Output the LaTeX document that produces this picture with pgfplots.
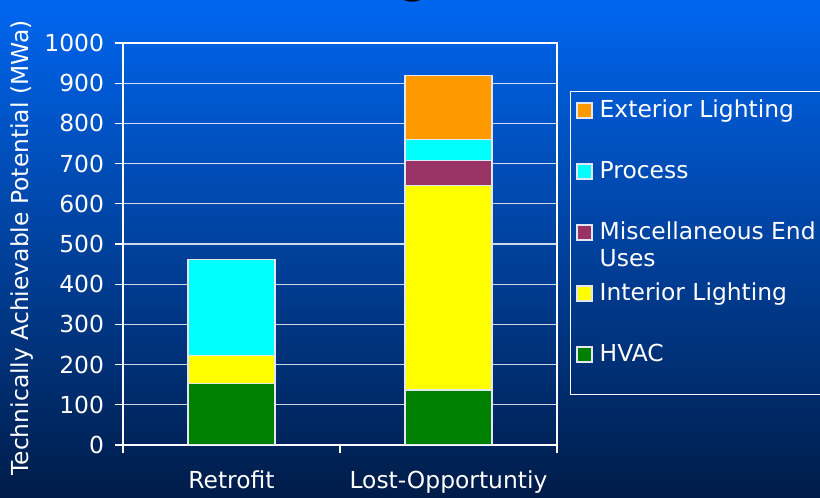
\documentclass[border=0pt]{standalone}
\usepackage{pgfplots}
\pgfplotsset{compat=1.18}
\usetikzlibrary{backgrounds}
\usepackage{fontspec}
\setmainfont{DejaVu Sans}
\definecolor{bgtop}{RGB}{0,102,240}
\definecolor{bgbot}{RGB}{0,28,72}
\definecolor{hvac}{RGB}{0,128,0}
\definecolor{intl}{RGB}{255,255,0}
\definecolor{misc}{RGB}{153,51,102}
\definecolor{proc}{RGB}{0,255,255}
\definecolor{extl}{RGB}{255,153,0}
\definecolor{edge}{RGB}{225,230,240}
\newcommand\fnt{\fontsize{11.7}{13.5}\selectfont}

\begin{document}
\begin{tikzpicture}
\begin{axis}[
  scale only axis, width=217pt, height=201pt,
  ybar stacked, bar width=43.5pt,
  xmin=0, xmax=2, ymin=0, ymax=1000,
  xtick={0.5,1.5}, xticklabels={Retrofit,Lost-Opportuntiy},
  minor xtick={0,1,2},
  ytick={0,100,...,1000},
  tick align=outside, tick pos=left,
  major tick length=4pt, minor tick length=4pt,
  major x tick style={draw=none},
  minor x tick style={draw=white, line width=0.6pt},
  ytick style={draw=white, line width=0.6pt},
  axis line style={white, line width=0.6pt},
  ymajorgrids, grid style={white, opacity=0.8, line width=0.6pt},
  tick label style={font=\fnt, text=white},
  /pgf/number format/assume math mode=true,
  /pgf/number format/1000 sep={},
  xticklabel style={yshift=-5.5pt},
  yticklabel style={xshift=-2pt},
  ylabel={Technically Achievable Potential (MWa)},
  ylabel style={font=\fnt, text=white, at={(axis description cs:-0.232,0.49)}, anchor=center},
  legend style={at={(1,1)}, anchor=north west, xshift=6.5pt, yshift=-24pt,
    fill=none, draw=white, line width=0.5pt, text=white, font=\fnt,
    inner ysep=3.5pt, inner xsep=3pt, row sep=8pt,
    nodes={text height=7.5pt, text depth=11pt, inner ysep=2pt, inner xsep=3.5pt}},
  legend cell align=left,
  reverse legend,
  every axis plot/.append style={draw=edge, line width=0.6pt},
  legend image code/.code={\draw[#1] (0pt,1.5pt) rectangle (7.5pt,9pt);},
]
\addplot[fill=hvac] coordinates {(0.5,152) (1.5,137)};
\addlegendentry{HVAC}
\addplot[fill=intl] coordinates {(0.5,70) (1.5,509)};
\addlegendentry{Interior Lighting}
\addplot[fill=misc] coordinates {(0.5,0) (1.5,61)};
\addlegendentry{\begin{tabular}[t]{@{}l@{}}Miscellaneous End\\Uses\end{tabular}}
\addplot[fill=proc] coordinates {(0.5,240) (1.5,52)};
\addlegendentry{Process}
\addplot[fill=extl] coordinates {(0.5,0) (1.5,161)};
\addlegendentry{Exterior Lighting}
\coordinate (O) at (rel axis cs:0,0);
\end{axis}
\begin{scope}[on background layer, shift={(O)}, x=1pt, y=1pt]
\shade[top color=bgtop, bottom color=bgbot] (-61.5,-26.5) rectangle ++(410,249);
\end{scope}
% cut-off title, only the descender shows
\begin{scope}[shift={(O)}, x=1pt, y=1pt]
\node[anchor=base, text=black, font=\bfseries\fontsize{20}{24}\selectfont] at (146,225.5) {g};
\node[anchor=base, text=yellow, font=\bfseries\fontsize{20}{24}\selectfont] at (145,226.5) {g};
\end{scope}
\pgfresetboundingbox
\useasboundingbox[shift={(O)}, x=1pt, y=1pt] (-61.5,-26.5) rectangle ++(410,249);
\end{tikzpicture}
\end{document}
